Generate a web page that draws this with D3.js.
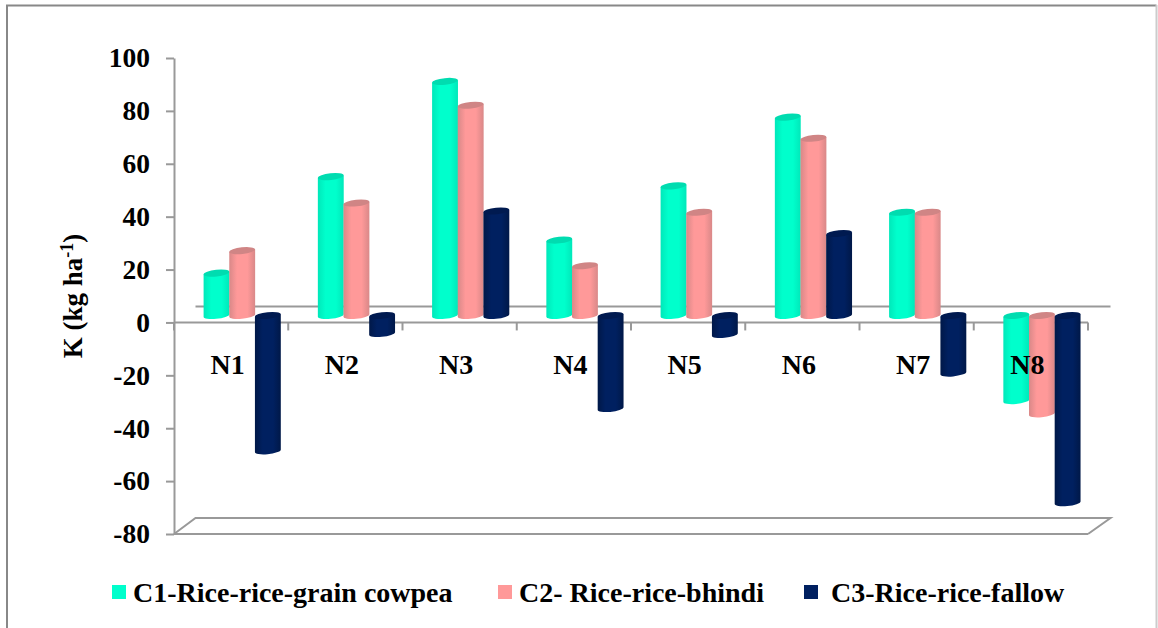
<!DOCTYPE html>
<html><head><meta charset="utf-8">
<script src="https://cdnjs.cloudflare.com/ajax/libs/d3/7.8.5/d3.min.js"></script>
<style>html,body{margin:0;padding:0;background:#fff}svg{display:block}
text{font-family:"Liberation Serif","Times New Roman",serif;font-weight:bold;fill:#000}</style>
</head><body><svg id="c" width="1158" height="628"></svg>
<script>
const categories=["N1","N2","N3","N4","N5","N6","N7","N8"];
const seriesNames=["C1-Rice-rice-grain cowpea","C2- Rice-rice-bhindi","C3-Rice-rice-fallow"];
const c1=[16,52.5,88.5,28.5,49,75,39,-32.2];
const c2=[24.5,42.5,79.5,18.8,39,67,39,-37.2];
const c3=[-51.2,-6.8,39.5,-35.2,-7.2,31,-21.8,-70.8];
const yTicks=[100,80,60,40,20,0,-20,-40,-60,-80];
const colors=["#00ffcc","#ff9999","#002060"];
const topColors=["#00dcb0","#d08585","#001a50"];
const edgeColors=["#00e8ba","#d98888","#001848"];

const svg=d3.select("#c");
const plotLeft=174,plotRight=1088,plotTop=58,plotBottom=534,dx=11,dy=-7,backX=21.5,backY=-16;
const x=d3.scaleBand().domain(categories).range([plotLeft,plotRight]);
const y=d3.scaleLinear().domain([-80,100]).range([plotBottom,plotTop]);
const inner=d3.scaleBand().domain([0,1,2]).range([0,77]);
const grey="#999";

// gradients
const defs=svg.append("defs");
colors.forEach((c,i)=>{
  const g=defs.append("linearGradient").attr("id","g"+i);
  g.append("stop").attr("offset","0%").attr("stop-color",edgeColors[i]);
  g.append("stop").attr("offset","30%").attr("stop-color",c);
  g.append("stop").attr("offset","70%").attr("stop-color",c);
  g.append("stop").attr("offset","100%").attr("stop-color",edgeColors[i]);
});

// outer frame
svg.append("path").attr("d","M7,628V5.5H1156.5").attr("fill","none").attr("stroke","#888").attr("stroke-width",2);
svg.append("line").attr("x1",1156.5).attr("x2",1156.5).attr("y1",5).attr("y2",628).attr("stroke","#ccc").attr("stroke-width",2);

// back walls / floor
const wall=svg.append("g").attr("fill","none").attr("stroke",grey).attr("stroke-width",2);
wall.append("line").attr("x1",plotLeft+backX).attr("x2",plotRight+backX+1).attr("y1",y(0)+backY).attr("y2",y(0)+backY);
wall.append("path").attr("d",`M${plotLeft},${plotBottom}L${plotLeft+backX},${plotBottom+backY}H${plotRight+backX+1}L${plotRight},${plotBottom}`);

// axes
const yAxis=d3.axisLeft(y).tickValues(yTicks).tickSize(8).tickPadding(16).tickSizeOuter(0).tickFormat(d=>String(d));
const gy=svg.append("g").attr("transform",`translate(${plotLeft},0)`).call(yAxis);
gy.selectAll("path,line").attr("stroke",grey).attr("stroke-width",2);
gy.selectAll("text").attr("font-size",27.5).style("font-family",'"Liberation Serif",serif').style("font-weight","bold").attr("fill","#000");

const xTickVals=d3.range(categories.length+1).map(i=>plotLeft+i*x.step());
const axX=svg.append("g").attr("fill","none").attr("stroke",grey).attr("stroke-width",2);
axX.append("line").attr("x1",plotLeft).attr("x2",plotRight).attr("y1",y(0)).attr("y2",y(0));
axX.selectAll("line.t").data(xTickVals).join("line").attr("class","t").attr("x1",d=>d).attr("x2",d=>d).attr("y1",y(0)).attr("y2",y(0)+8);
axX.append("line").attr("x1",plotLeft).attr("x2",plotRight).attr("y1",plotBottom).attr("y2",plotBottom);

// bars
const rows=[c1,c2,c3];
const tilt=-6;
categories.forEach((cat,ci)=>{
  rows.forEach((vals,si)=>{
    const v=vals[ci];
    const bx=x(cat)+18.6+dx+inner(si);
    const w=inner.bandwidth()+0.2;
    const rx=w/2, ry=3.3;
    const cx=bx+rx;
    const y0=y(0)+dy, y1=y(v)+dy;
    const yt=Math.min(y0,y1), yb=Math.max(y0,y1);
    const g=svg.append("g");
    g.append("path")
      .attr("d",`M${cx-rx},${yt+1.2}V${yb+1.2}A${rx},${ry} ${tilt} 0 0 ${cx+rx},${yb-1.2}V${yt-1.2}Z`)
      .attr("fill",`url(#g${si})`);
    g.append("ellipse").attr("cx",cx).attr("cy",yt).attr("rx",rx).attr("ry",ry)
      .attr("transform",`rotate(${tilt} ${cx} ${yt})`).attr("fill",topColors[si]);
  });
});

// category labels
svg.append("g").selectAll("text").data(categories).join("text")
  .attr("x",d=>x(d)+x.bandwidth()/2-3.5).attr("y",374).attr("text-anchor","middle").attr("font-size",28).text(d=>d);

// axis title
const t=svg.append("text").attr("transform","translate(82,296) rotate(-90)").attr("text-anchor","middle").attr("font-size",27);
t.append("tspan").text("K (kg ha");
t.append("tspan").attr("dy",-9).attr("font-size",18).text("-1");
t.append("tspan").attr("dy",9).text(")");

// legend
const legendX=[112,498,804];
const legendTextX=[133,519,831];
seriesNames.forEach((n,i)=>{
  svg.append("rect").attr("x",legendX[i]).attr("y",585).attr("width",14).attr("height",14).attr("fill",colors[i]);
  svg.append("text").attr("x",legendTextX[i]).attr("y",602).attr("font-size",28).text(n);
});
</script></body></html>
